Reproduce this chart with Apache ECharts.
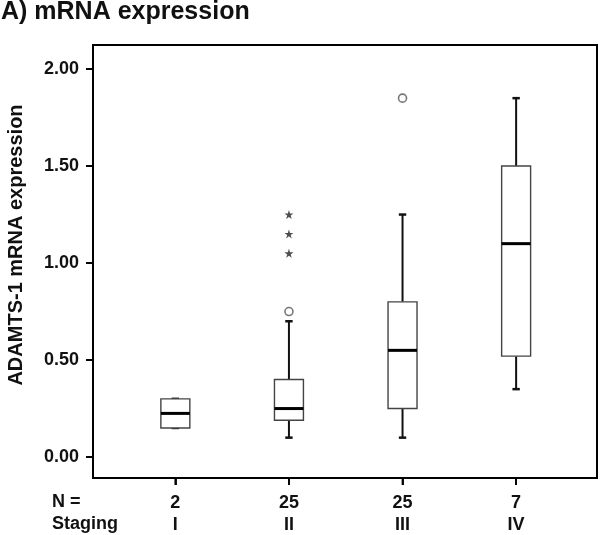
<!DOCTYPE html>
<html>
<head>
<meta charset="utf-8">
<script src="https://cdn.jsdelivr.net/npm/echarts@6/dist/echarts.min.js"></script>
<style>html,body{margin:0;padding:0;background:#fff}#c{width:600px;height:535px}</style>
</head>
<body>
<div id="c"></div>
<script>
// ---- data ----
var categories = ['I', 'II', 'III', 'IV'];
var nCounts = [2, 25, 25, 7];
var whiskerLow = [0.15, 0.10, 0.10, 0.35];
var quartile1 = [0.15, 0.19, 0.25, 0.52];
var medians = [0.225, 0.25, 0.55, 1.10];
var quartile3 = [0.30, 0.40, 0.80, 1.50];
var whiskerHigh = [0.30, 0.70, 1.25, 1.85];
var outlierCircles = [[2, 0.75], [3, 1.85]];
var extremeStars = [[2, 1.05], [2, 1.15], [2, 1.25]];
var yTicks = [0, 0.5, 1, 1.5, 2];
var xTicks = [1, 2, 3, 4];

var X_MIN = 0.275, X_MAX = 4.712, Y_MIN = -0.108, Y_MAX = 2.124;
var FONT = "'Liberation Sans', Arial, sans-serif";
var boxData = categories.map(function (c, i) {
  return [i + 1, whiskerLow[i], quartile1[i], medians[i], quartile3[i], whiskerHigh[i]];
});
// tick marks: [axisKind (0 = x, 1 = y), value]
var tickData = xTicks.map(function (v) { return [0, v]; })
  .concat(yTicks.map(function (v) { return [1, v]; }));

var STAR = 'path://M50,0 L61.8,35.1 L98.9,35.1 L68.9,56.9 L80.3,92.1 L50,70.4 L19.7,92.1 L31.1,56.9 L1.1,35.1 L38.2,35.1 Z';

var chart = echarts.init(document.getElementById('c'), null, { renderer: 'canvas' });
chart.setOption({
  animation: false,
  backgroundColor: '#fff',
  title: {
    text: 'A) mRNA expression',
    left: 1, top: 0, padding: 0,
    textStyle: { fontFamily: FONT, fontSize: 25, fontWeight: 'bold', color: '#111' }
  },
  grid: {
    left: 93, right: 3, top: 45, bottom: 57,
    show: true, borderColor: '#000', borderWidth: 2
  },
  xAxis: {
    type: 'value', min: X_MIN, max: X_MAX,
    splitLine: { show: false },
    axisLine: { show: true, onZero: false, lineStyle: { color: '#000', width: 2 } },
    axisTick: { show: true, length: 7, customValues: xTicks, lineStyle: { color: '#000', width: 1.8 } },
    axisLabel: {
      customValues: xTicks,
      margin: 14,
      formatter: function (v) {
        var i = Math.round(v) - 1;
        return '{n|' + nCounts[i] + '}\n{s|' + categories[i] + '}';
      },
      rich: {
        n: { fontFamily: FONT, fontSize: 18, fontWeight: 'bold', color: '#111', lineHeight: 22 },
        s: { fontFamily: FONT, fontSize: 18, fontWeight: 'bold', color: '#111', lineHeight: 22 }
      }
    }
  },
  yAxis: {
    type: 'value', min: Y_MIN, max: Y_MAX,
    splitLine: { show: false },
    axisLine: { show: true, onZero: false, lineStyle: { color: '#000', width: 2 } },
    axisTick: { show: true, length: 7, customValues: yTicks, lineStyle: { color: '#000', width: 1.8 } },
    axisLabel: {
      customValues: yTicks,
      margin: 14,
      formatter: function (v) { return v.toFixed(2); },
      fontFamily: FONT, fontSize: 18, fontWeight: 'bold', color: '#111'
    }
  },
  graphic: [
    { type: 'text', left: 52, top: 493, style: { text: 'N =', font: 'bold 18px ' + FONT, fill: '#111' } },
    { type: 'text', left: 52, top: 515, style: { text: 'Staging', font: 'bold 18px ' + FONT, fill: '#111' } },
    { type: 'text', x: 16, y: 245, rotation: Math.PI / 2,
      style: { text: 'ADAMTS-1 mRNA expression', font: 'bold 20px ' + FONT, fill: '#111', align: 'center', verticalAlign: 'middle' } }
  ],
  series: [
    {
      type: 'custom',
      data: boxData,
      renderItem: function (params, api) {
        var x = api.value(0);
        var pLo = api.coord([x, api.value(1)]);
        var pQ1 = api.coord([x, api.value(2)]);
        var pMed = api.coord([x, api.value(3)]);
        var pQ3 = api.coord([x, api.value(4)]);
        var pHi = api.coord([x, api.value(5)]);
        var bw = api.size([0.255, 0])[0];
        var cw = api.size([0.065, 0])[0];
        var cx = pMed[0];
        var wStyle = { stroke: '#111', lineWidth: 2 };
        var capStyle = { stroke: '#111', lineWidth: 2.5 };
        return {
          type: 'group',
          children: [
            { type: 'line', shape: { x1: cx, y1: pLo[1], x2: cx, y2: pQ1[1] }, style: wStyle },
            { type: 'line', shape: { x1: cx, y1: pQ3[1], x2: cx, y2: pHi[1] }, style: wStyle },
            { type: 'line', shape: { x1: cx - cw / 2, y1: pLo[1], x2: cx + cw / 2, y2: pLo[1] }, style: capStyle },
            { type: 'line', shape: { x1: cx - cw / 2, y1: pHi[1], x2: cx + cw / 2, y2: pHi[1] }, style: capStyle },
            { type: 'rect', shape: { x: cx - bw / 2, y: pQ3[1], width: bw, height: pQ1[1] - pQ3[1] },
              style: { fill: '#fff', stroke: '#444', lineWidth: 1.4 } },
            { type: 'line', shape: { x1: cx - bw / 2, y1: pMed[1], x2: cx + bw / 2, y2: pMed[1] },
              style: { stroke: '#000', lineWidth: 3 } }
          ]
        };
      }
    },
    {
      type: 'custom',
      data: tickData,
      clip: false,
      silent: true,
      z: 10,
      renderItem: function (params, api) {
        var kind = api.value(0), v = api.value(1), p;
        if (kind === 0) {
          p = api.coord([v, Y_MIN]);
          return { type: 'line', shape: { x1: p[0], y1: p[1], x2: p[0], y2: p[1] + 7 },
            style: { stroke: '#000', lineWidth: 1.8 } };
        }
        p = api.coord([X_MIN, v]);
        return { type: 'line', shape: { x1: p[0] - 7, y1: p[1], x2: p[0], y2: p[1] },
          style: { stroke: '#000', lineWidth: 1.8 } };
      }
    },
    {
      type: 'scatter',
      data: outlierCircles,
      symbol: 'circle', symbolSize: 8,
      itemStyle: { color: '#fff', borderColor: '#555', borderWidth: 1.6 }
    },
    {
      type: 'scatter',
      data: extremeStars,
      symbol: STAR, symbolSize: 9,
      itemStyle: { color: '#222' }
    }
  ]
});
</script>
</body>
</html>
